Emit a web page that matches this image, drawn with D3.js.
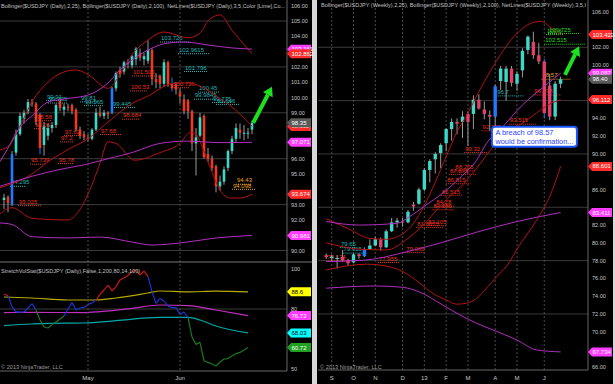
<!DOCTYPE html>
<html><head><meta charset="utf-8">
<script src="https://d3js.org/d3.v7.min.js"></script>
<style>
body{margin:0;background:#000;overflow:hidden}
text{font-family:"Liberation Sans",Arial,sans-serif}
</style></head><body>
<script>
// ---------- daily candles (bar index 1 = Apr 2 2013) ----------
var dailyStart = 1;
var dailyOpen  = [93.3,93.5,93.0,96.4,97.6,98.6,99.1,99.7,99.6,98.9,96.9,97.5,98.0,98.2,99.8,99.2,99.4,99.5,99.2,97.9,97.6,97.4,97.3,97.9,99.0,98.8,99.0,99.0,100.6,101.8,101.7,102.3,102.1,102.5,102.9,102.5,102.4,103.1,101.2,101.4,100.9,102.3,100.9,100.8,100.4,99.9,99.8,99.1,97.0,97.5,98.8,96.3,96.0,95.5,94.2,94.5,95.4,96.5,97.3,97.9,97.7,97.7,97.9];
var dailyHigh  = [93.7,93.6,96.5,97.9,99.0,99.2,99.9,99.9,99.7,99.0,98.4,98.3,98.4,99.6,99.9,99.6,99.6,99.6,99.3,98.1,97.8,97.6,98.0,99.3,99.4,99.2,99.1,100.7,101.7,102.0,102.4,102.5,102.8,103.3,103.2,102.9,103.74,103.2,101.6,101.5,102.5,102.4,101.3,101.0,100.6,100.2,99.9,99.2,98.0,99.0,98.9,96.7,96.2,95.6,94.9,95.5,96.6,97.5,98.3,98.3,98.2,98.0,98.5];
var dailyLow   = [92.7,92.5,92.9,96.2,97.5,98.3,98.9,99.4,98.2,96.3,96.2,97.2,97.7,98.0,99.1,98.8,99.1,98.9,97.8,97.3,97.2,97.1,97.2,97.8,98.7,98.6,98.6,98.9,100.4,101.3,101.5,101.9,101.9,102.1,102.4,102.1,102.2,100.8,100.6,100.6,100.7,100.7,100.4,100.2,99.6,98.9,98.6,96.5,94.9,97.4,96.0,95.8,95.2,93.8,93.9,94.3,95.2,96.3,97.1,97.3,97.2,97.3,97.6];
var dailyClose = [93.45,93.1,96.3,97.6,98.8,99.0,99.7,99.6,98.4,96.7,98.1,98.0,98.2,99.5,99.3,99.4,99.35,99.1,97.9,97.5,97.4,97.3,97.9,99.0,98.8,99.0,98.9,100.6,101.6,101.5,102.3,102.2,102.7,103.2,102.6,102.7,103.1,101.2,101.0,100.9,102.3,100.9,100.6,100.5,100.05,99.1,99.1,97.0,97.4,98.7,96.1,96.0,95.4,94.2,94.5,95.3,96.5,97.3,98.0,97.7,97.7,97.7,98.35];
var dailyBlueBody = [3, 28];
var dailyBlueWick = [10, 43];
var dailyMonths = [["May", 22], ["Jun", 45]];

// Bollinger lines, daily: [bar index, price]
var bb25UpperD = [[0,96.57],[2.5,96.9],[4.2,97.7],[8.3,99.84],[12,101.0],[16,101.67],[19,101.8],[22,101.5],[27,100.6],[30,101.5],[33,102.8],[37,103.76],[41,104.28],[47,103.9],[50,104.2],[52,105.0],[55,105.4],[58,104.4],[63,102.862]];
var bb25MidD   = [[0,94.1],[8,95.0],[12,95.8],[17,96.6],[22,97.3],[27,98.4],[33,99.6],[37,100.1],[43,100.9],[47,100.95],[50,100.75],[54,100.1],[58,99.38],[63,98.112]];
var bb25LowerD = [[0,92.4],[3,92.8],[8,92.1],[17,92.0],[19.5,92.5],[21.7,93.5],[25,95.7],[27,97.1],[29,97.0],[33.7,95.9],[40,96.4],[45,97.0],[47.5,97.7],[49,97.6],[50.5,96.8],[52.5,95.45],[55,93.95],[57.5,93.43],[60,93.43],[63,93.674]];
var bb100UpperD = [[0,95.8],[2,96.7],[5,98.07],[8,98.8],[12,99.7],[16,99.9],[22,100.16],[27,100.95],[30,101.8],[33,102.45],[37,103.1],[42,103.56],[46,103.63],[52,103.43],[58,103.24],[63,103.161]];
var bb100MidD   = [[0,94.2],[3,94.45],[8,94.85],[15,95.3],[21,95.6],[27,96.0],[33,96.4],[40,97.0],[47,97.15],[55,97.05],[63,97.071]];
var bb100LowerD = [[0,91.8],[3,91.7],[8,90.9],[17,90.82],[25,90.88],[33,90.55],[38,90.36],[45,90.49],[54,90.82],[63,90.981]];

// net lines, daily: [label, from bar, to bar, colour]
var netDaily = [
  ["103.726",40,47.5,"t"],["102.9615",44.5,52.5,"t"],["101.796",46,52,"t"],["100.45",49.5,55,"t"],["99.9845",48.5,54,"t"],
  ["99.775",53,58,"t"],["99.646",54,60,"t"],["99.445",28,34,"t"],["99.81",20,24.5,"t"],["99.565",21,26,"t"],
  ["99.91",11.5,15.5,"t"],["99.735",12,17,"t"],["94.295",2.5,6.5,"t"],
  ["101.505",33,40,"r"],["100.53",32.5,37,"r"],["100.736",43,47.5,"r"],["98.684",30.5,35,"r"],["98.58",9,13,"r"],
  ["98.06",8.5,12.5,"r"],["97.62",16,20,"r"],["97.2",15,18.5,"r"],["97.68",25,30.5,"r"],["95.739",7.5,11.5,"r"],
  ["95.78",14.5,18.5,"r"],["93.025",4.5,10.5,"r"],
  ["94.43",59,63,"o"],["94.098",58,64,"o"]
];

// StretchVolStat, daily
var stretchValues = [87.5,86.7,81.2,78.6,78.4,78.5,80.5,82.7,79.5,74.5,71,70.5,72.2,73.5,75,76.5,80,83.2,79.5,80.5,80.8,82.3,83,84.5,87.3,89.5,92,89,91.2,94.5,95.5,96.7,98.7,99.5,97,99,96.2,88.7,82.8,85.3,84,81.5,80.7,80.7,77.3,78.5,75.7,66,62.3,63.3,54,53.3,52.5,51.5,53.5,55,55.2,56.5,57.7,58.3,59.5,60.72];
var stretchState  = "rrbbbbbbbgggggggbbbbbbbbrrrrrrrrrrrrrbbbbbbbbbbggggggggggggggg";
var stretchYellow  = [[1,86],[8,85.5],[17,84.5],[24,84.5],[29,85.5],[37,88],[40,89],[47,88.6],[54,88.9],[62,88.6]];
var stretchMagenta = [[1,78.2],[8,78.3],[21,78.2],[25,78.7],[33,80.3],[40,82],[47,81.7],[54,79.5],[62,76.72]];
var stretchCyan    = [[1,71.7],[8,72.5],[12,72.8],[21,73],[29,74.2],[40,75.8],[47,75.8],[50,74.5],[54,71.5],[62,68.03]];

// ---------- weekly candles (week 0 = week ending Sep 7 2012) ----------
var weeklyStart = -1;
var weeklyOpen  = [78.6,78.3,78.3,78.4,78.1,77.8,78.7,78.5,79.3,79.7,80.4,79.5,81.3,82.3,82.4,82.3,84.3,84.4,86.0,88.2,89.4,90.1,91.2,92.8,93.6,93.6,94.5,94.5,96.1,95.0,94.4,94.2,98.2,98.1,99.6,97.9,99.4,101.7,102.6,101.1,100.4,97.7,94.2,97.9];
var weeklyHigh  = [78.8,78.7,78.6,79.2,78.2,78.8,78.8,79.5,80.4,80.7,80.6,81.5,82.8,82.8,82.8,83.7,84.6,86.2,88.4,89.4,90.2,91.2,92.9,94.0,94.0,94.8,94.8,96.6,96.7,95.9,94.9,97.8,99.9,99.9,99.9,99.3,101.9,103.3,103.75,102.5,100.7,99.0,98.2,98.7];
var weeklyLow   = [78.2,77.9,77.1,77.9,77.4,77.7,78.2,78.4,79.2,79.6,79.1,79.4,81.2,81.7,81.8,82.2,83.6,84.3,85.8,86.8,87.8,88.4,90.3,91.5,92.2,91.8,90.9,92.8,95.0,93.9,92.6,92.6,97.2,96.0,97.6,97.1,98.6,101.2,100.7,100.1,94.0,93.8,93.8,97.4];
var weeklyClose = [78.4,78.45,78.3,78.0,77.7,78.7,78.5,79.3,79.7,80.4,79.5,81.3,82.3,82.5,82.35,83.5,84.1,86.0,88.2,89.2,90.0,91.0,92.8,93.6,93.4,94.2,93.6,96.1,95.1,94.5,94.2,97.6,99.6,99.6,98.0,99.0,101.6,103.2,101.1,100.4,94.6,94.2,97.9,98.4];
var weeklyBlueBody = [6, 30];
var weeklyBlueWick = [39];
var weeklyMonths = [["S",0],["O",4],["N",8],["D",13],["13",17],["F",21],["M",25],["A",30],["M",34],["J",39]];

var bb25UpperW = [[-1,82.7],[3,81.6],[7,80.5],[10,80.4],[13,81.0],[15,82.2],[17,84.2],[19,86.8],[21,89.7],[23,92.5],[25,94.6],[27,97.0],[29,99.2],[31,101.2],[33,102.9],[35,104.1],[37,104.8],[38.5,104.9],[40,104.3],[42,103.422]];
var bb25MidW   = [[-1,80.0],[5,79.3],[10,79.2],[14,80.5],[17.7,82.6],[20,84.2],[22,85.4],[23.5,86.2],[26.6,88.4],[29.6,90.8],[32,92.3],[34.6,93.3],[37.6,94.6],[39.4,95.4],[42,96.112]];
var bb25LowerW = [[-1,76.95],[6.4,77.6],[8.8,77.5],[13.1,76.75],[16.2,75.45],[18.6,74.3],[21.1,73.55],[22.9,73.1],[24.7,73.2],[26.6,73.75],[28.4,74.9],[30.3,76.2],[32.7,77.9],[33.9,79.2],[37.6,82.55],[40,85.2],[42,88.601]];
var bb100UpperW = [[-1,82.4],[5,82.0],[12,82.2],[14.3,82.95],[17.3,84.25],[20.4,85.6],[23.5,87.3],[26.6,89.3],[28.4,91.2],[31,92.8],[35,95.5],[39,97.6],[42,99.087]];
var bb100MidW   = [[-1,77.9],[6,78.05],[13.8,79.0],[20,80.0],[26.6,81.2],[34,82.4],[42,83.411]];
var bb100LowerW = [[-1,74.9],[8,75.15],[13,75.0],[16,74.5],[20.4,73.0],[23.5,71.9],[26.6,70.95],[29.6,70.2],[33.9,69.1],[37.6,67.95],[42,67.734]];

var netWeekly = [
  ["103.725",39.7,45.6,"g"],["103.6",39.3,42.5,"g"],["102.515",39.0,46.5,"g"],
  ["98.57",38.5,43.8,"o"],["96.798",37.0,42.0,"r"],["96.7",30.2,35.3,"t"],
  ["93.515",32.5,37.5,"r"],["92.765",27.5,32.5,"r"],["90.32",24.3,29.0,"r"],["88.265",22.5,26.5,"r"],["87.875",21.5,26.5,"r"],
  ["86.815",21.0,25.5,"r"],["85.515",20.0,24.0,"r"],["84.28",19.0,22.5,"r"],["83.885",18.5,22.5,"r"],
  ["82.105",17.5,21.0,"r"],["81.8875",15.5,20.5,"r"],["79.065",13.5,17.0,"r"],["77.955",8.5,12.5,"r"],["78.124",-1.0,3.5,"r"],
  ["79.65",1.5,4.5,"t"],["79.015",2.0,6.5,"t"]
];

var note = ["A breach of 98.57", "would be confirmation..."];

// ---------- setup ----------
var W = 615, H = 384;
var svg = d3.select("body").append("svg")
    .attr("width", W).attr("height", H)
    .style("display", "block").style("background", "#000");

var xD = d3.scaleLinear().domain([0, 71.75]).range([0, 287]);
var yD = d3.scaleLinear().domain([106, 90]).range([5.7, 250.5]);
var yS = d3.scaleLinear().domain([100, 50]).range([269, 369]);
var xW = d3.scaleLinear().domain([0, 39]).range([331.7, 544.25]);
var yW = d3.scaleLinear().domain([106, 66]).range([11.7, 367.3]);

var netColors = {t: "#1fb5b5", r: "#e8321e", o: "#e8a020", g: "#22dd22"};
var upC = "#3fd8c8", blueC = "#1e7bff", wickC = "#9a9a9a";

var defs = svg.append("defs");
function clip(id, x, y, w, h) {
    defs.append("clipPath").attr("id", id).append("rect")
        .attr("x", x).attr("y", y).attr("width", w).attr("height", h);
}
clip("cD", 0, 0, 287, 262);
clip("cS", 0, 262, 287, 109);
clip("cW", 318, 0, 270, 370);

// frame bits
svg.append("rect").attr("x", 312).attr("y", 0).attr("width", 5).attr("height", H).attr("fill", "#d8d8d8");
svg.append("rect").attr("x", 613).attr("y", 0).attr("width", 2).attr("height", H).attr("fill", "#d8d8d8");

var gD = svg.append("g").attr("clip-path", "url(#cD)");
var gS = svg.append("g").attr("clip-path", "url(#cS)");
var gW = svg.append("g").attr("clip-path", "url(#cW)");

// ---------- grids ----------
[105, 102, 99, 96, 93, 90].forEach(function(v) {
    gD.append("line").attr("x1", 0).attr("x2", 287).attr("y1", yD(v)).attr("y2", yD(v)).attr("stroke", "#3a3a3a");
});
gS.append("line").attr("x1", 0).attr("x2", 287).attr("y1", yS(80)).attr("y2", yS(80)).attr("stroke", "#3a3a3a");
dailyMonths.forEach(function(m) {
    svg.append("line").attr("x1", xD(m[1])).attr("x2", xD(m[1])).attr("y1", 0).attr("y2", 371)
        .attr("stroke", "#4a4a4a").attr("stroke-dasharray", "2,2");
});
[102, 96, 90, 84, 78, 72].forEach(function(v) {
    gW.append("line").attr("x1", 318).attr("x2", 588).attr("y1", yW(v)).attr("y2", yW(v)).attr("stroke", "#3a3a3a");
});
weeklyMonths.forEach(function(m) {
    gW.append("line").attr("x1", xW(m[1])).attr("x2", xW(m[1])).attr("y1", 0).attr("y2", 370)
        .attr("stroke", "#4a4a4a").attr("stroke-dasharray", "2,2");
});

// ---------- helpers ----------
function drawLine(g, pts, xs, ys, color, w) {
    g.append("path").datum(pts)
        .attr("fill", "none").attr("stroke", color).attr("stroke-width", w || 1)
        .attr("d", d3.line().x(function(d) { return xs(d[0]); }).y(function(d) { return ys(d[1]); }).curve(d3.curveMonotoneX));
}

function drawCandles(g, xs, ys, start, o, h, l, c, bw, dnC, blueBody, blueWick) {
    var rows = o.map(function(v, j) { return {i: start + j, o: v, h: h[j], l: l[j], c: c[j]}; });
    var cg = g.selectAll(null).data(rows).enter().append("g");
    cg.append("line")
        .attr("x1", function(d) { return xs(d.i); }).attr("x2", function(d) { return xs(d.i); })
        .attr("y1", function(d) { return ys(d.h); }).attr("y2", function(d) { return ys(d.l); })
        .attr("stroke", function(d) { return blueWick.indexOf(d.i) >= 0 ? blueC : wickC; });
    cg.append("rect")
        .attr("x", function(d) { return xs(d.i) - bw / 2; })
        .attr("width", bw)
        .attr("y", function(d) { return ys(Math.max(d.o, d.c)); })
        .attr("height", function(d) { return Math.max(1, Math.abs(ys(d.o) - ys(d.c))); })
        .attr("fill", function(d) {
            if (blueBody.indexOf(d.i) >= 0) return blueC;
            return d.c >= d.o ? upC : dnC;
        });
}

function drawNet(g, list, xs, ys) {
    list.forEach(function(n) {
        var v = +n[0], col = netColors[n[3]];
        g.append("line").attr("x1", xs(n[1])).attr("x2", xs(n[2]))
            .attr("y1", ys(v) + 1.5).attr("y2", ys(v) + 1.5)
            .attr("stroke", col).attr("stroke-dasharray", "1,1");
        g.append("text").attr("x", xs(n[1]) + 1).attr("y", ys(v) - 0.3)
            .attr("fill", col).attr("font-size", 6).text(n[0]);
    });
}

function badge(x, y, txt, fill, tc) {
    svg.append("path")
        .attr("d", "M" + x + "," + y + "l4,-4.5h20v9h-20z")
        .attr("fill", fill);
    svg.append("text").attr("x", x + 4.5).attr("y", y + 2.1)
        .attr("fill", tc).attr("font-size", 6).text(txt);
}

function arrow(x1, y1, x2, y2) {
    var a = Math.atan2(y2 - y1, x2 - x1), L = 9, s = 5.5;
    var bx = x2 - L * Math.cos(a), by = y2 - L * Math.sin(a);
    svg.append("line").attr("x1", x1).attr("y1", y1).attr("x2", bx).attr("y2", by)
        .attr("stroke", "#1ee01e").attr("stroke-width", 4);
    svg.append("path").attr("fill", "#1ee01e")
        .attr("d", "M" + x2 + "," + y2 +
            "L" + (bx + s * Math.sin(a)) + "," + (by - s * Math.cos(a)) +
            "L" + (bx - s * Math.sin(a)) + "," + (by + s * Math.cos(a)) + "Z");
}

// axis tick labels, skipping the ones hidden under a value badge
function tickLabels(x, ticks, ys, fmt, covered) {
    ticks.forEach(function(v) {
        var y = ys(v);
        if (covered.some(function(b) { return Math.abs(b - y) < 6.5; })) return;
        svg.append("text").attr("x", x).attr("y", y + 2).attr("fill", "#c8c8c8").attr("font-size", 5.5).text(fmt(v));
    });
}

// ---------- daily price panel ----------
var redBand = "#b31212", magBand = "#b02ec0";
drawNet(gD, netDaily, xD, yD);
drawCandles(gD, xD, yD, dailyStart, dailyOpen, dailyHigh, dailyLow, dailyClose, 2.6, "#ec3a22", dailyBlueBody, dailyBlueWick);
[bb25UpperD, bb25MidD, bb25LowerD].forEach(function(p) { drawLine(gD, p, xD, yD, redBand); });
[bb100UpperD, bb100MidD, bb100LowerD].forEach(function(p) { drawLine(gD, p, xD, yD, magBand); });

svg.append("text").attr("x", 1).attr("y", 8).attr("fill", "#c0c0c0").attr("font-size", 6)
    .attr("textLength", 284).attr("lengthAdjust", "spacingAndGlyphs")
    .text("Bollinger($USDJPY (Daily),2,25), Bollinger($USDJPY (Daily),2,100), NetLines($USDJPY (Daily),3,5,Color [Lime],Co...");

// ---------- stretch panel ----------
drawLine(gS, stretchYellow, xD, yS, "#b4aa00", 1.2);
drawLine(gS, stretchMagenta, xD, yS, "#c030c0", 1.2);
drawLine(gS, stretchCyan, xD, yS, "#00a8a8", 1.2);
var stColors = {r: "#d01818", b: "#1c34d8", g: "#1a7a1a"};
for (var j = 1; j < stretchValues.length; j++) {
    gS.append("line")
        .attr("x1", xD(j)).attr("y1", yS(stretchValues[j - 1]))
        .attr("x2", xD(j + 1)).attr("y2", yS(stretchValues[j]))
        .attr("stroke", stColors[stretchState[j]]).attr("stroke-width", 1.2);
}
svg.append("text").attr("x", 1).attr("y", 273).attr("fill", "#c0c0c0").attr("font-size", 5.6)
    .text("StretchVolStat($USDJPY (Daily),False,1,200,80,14,100)");
svg.append("text").attr("x", 1).attr("y", 369).attr("fill", "#9a9a9a").attr("font-size", 5.6)
    .text("\u00a9 2013 NinjaTrader, LLC");

// ---------- weekly panel ----------
drawNet(gW, netWeekly, xW, yW);
drawCandles(gW, xW, yW, weeklyStart, weeklyOpen, weeklyHigh, weeklyLow, weeklyClose, 3.4, "#e2406a", weeklyBlueBody, weeklyBlueWick);
[bb25UpperW, bb25MidW, bb25LowerW].forEach(function(p) { drawLine(gW, p, xW, yW, redBand); });
[bb100UpperW, bb100MidW, bb100LowerW].forEach(function(p) { drawLine(gW, p, xW, yW, magBand); });

svg.append("text").attr("x", 321).attr("y", 7).attr("fill", "#c0c0c0").attr("font-size", 6)
    .attr("textLength", 265).attr("lengthAdjust", "spacingAndGlyphs")
    .text("Bollinger($USDJPY (Weekly),2,25), Bollinger($USDJPY (Weekly),2,100), NetLines($USDJPY (Weekly),3,5,I");
svg.append("text").attr("x", 320).attr("y", 369).attr("fill", "#9a9a9a").attr("font-size", 5.6)
    .text("\u00a9 2013 NinjaTrader, LLC");

// callout
var bx0 = xW(29.4), bx1 = xW(45), by0 = yW(93.06), by1 = yW(90.8);
svg.append("rect").attr("x", bx0).attr("y", by0).attr("width", bx1 - bx0).attr("height", by1 - by0)
    .attr("rx", 3).attr("fill", "#fff").attr("stroke", "#1a55ff").attr("stroke-width", 2);
note.forEach(function(t, k) {
    svg.append("text").attr("x", bx0 + 3.5).attr("y", by0 + 8.5 + k * 8.5)
        .attr("fill", "#2a44ff").attr("font-size", 7.4).text(t);
});

// arrows
arrow(xD(63.3), yD(98.35), xD(68), yD(100.7));
arrow(xW(42.8), yW(98.9), xW(45.4), yW(102.1));

// ---------- axes ----------
var last = function(a) { return a[a.length - 1][1]; };
var gray = "#5a5a5a", red = "#ff2a2a", mag = "#ff3cff";
var lastD = dailyClose[dailyClose.length - 1], lastW = weeklyClose[weeklyClose.length - 1];
var lastS = stretchValues[stretchValues.length - 1];

var badgesD = [
    [last(bb100UpperD), 3, mag, "#fff"], [last(bb25UpperD), 3, red, "#fff"], [last(bb25MidD), 3, red, "#fff"],
    [lastD, 2, gray, "#fff"], [last(bb100MidD), 3, mag, "#fff"], [last(bb25LowerD), 3, red, "#fff"],
    [last(bb100LowerD), 3, mag, "#fff"]
];
var badgesS = [
    [last(stretchYellow), 1, "#ffff00", "#000"], [last(stretchMagenta), 2, mag, "#fff"],
    [last(stretchCyan), 2, "#00ffff", "#000"], [lastS, 2, "#22a022", "#fff"]
];
var badgesW = [
    [last(bb25UpperW), 3, red, "#fff"], [last(bb100UpperW), 3, mag, "#fff"], [lastW, 2, gray, "#fff"],
    [last(bb25MidW), 3, red, "#fff"], [last(bb25LowerW), 3, red, "#fff"], [last(bb100MidW), 3, mag, "#fff"],
    [last(bb100LowerW), 3, mag, "#fff"]
];

svg.append("line").attr("x1", 287).attr("x2", 287).attr("y1", 0).attr("y2", 371).attr("stroke", "#666");
svg.append("line").attr("x1", 0).attr("x2", 312).attr("y1", 262).attr("y2", 262).attr("stroke", "#777");
svg.append("line").attr("x1", 0).attr("x2", 287).attr("y1", 371).attr("y2", 371).attr("stroke", "#666");
svg.append("line").attr("x1", 588).attr("x2", 588).attr("y1", 0).attr("y2", 370).attr("stroke", "#666");
svg.append("line").attr("x1", 318).attr("x2", 588).attr("y1", 370).attr("y2", 370).attr("stroke", "#666");

tickLabels(291, d3.range(106, 89, -1), yD, function(v) { return v.toFixed(2); }, badgesD.map(function(b) { return yD(b[0]); }));
tickLabels(291, [100, 90, 80, 70, 60, 50], yS, function(v) { return v; }, badgesS.map(function(b) { return yS(b[0]); }));
tickLabels(592, d3.range(106, 65, -2), yW, function(v) { return v.toFixed(2); }, badgesW.map(function(b) { return yW(b[0]); }));

dailyMonths.forEach(function(m) {
    svg.append("text").attr("x", xD(m[1])).attr("y", 380).attr("text-anchor", "middle")
        .attr("fill", "#c8c8c8").attr("font-size", 6).text(m[0]);
});
weeklyMonths.forEach(function(m) {
    svg.append("text").attr("x", xW(m[1])).attr("y", 380).attr("text-anchor", "middle")
        .attr("fill", "#c8c8c8").attr("font-size", 6).text(m[0]);
});

badgesD.forEach(function(b) { badge(287, yD(b[0]), b[0].toFixed(b[1]), b[2], b[3]); });
badgesS.forEach(function(b) { badge(287, yS(b[0]), b[0].toFixed(b[1]), b[2], b[3]); });
badgesW.forEach(function(b) { badge(588, yW(b[0]), b[0].toFixed(b[1]), b[2], b[3]); });
</script>
</body></html>
